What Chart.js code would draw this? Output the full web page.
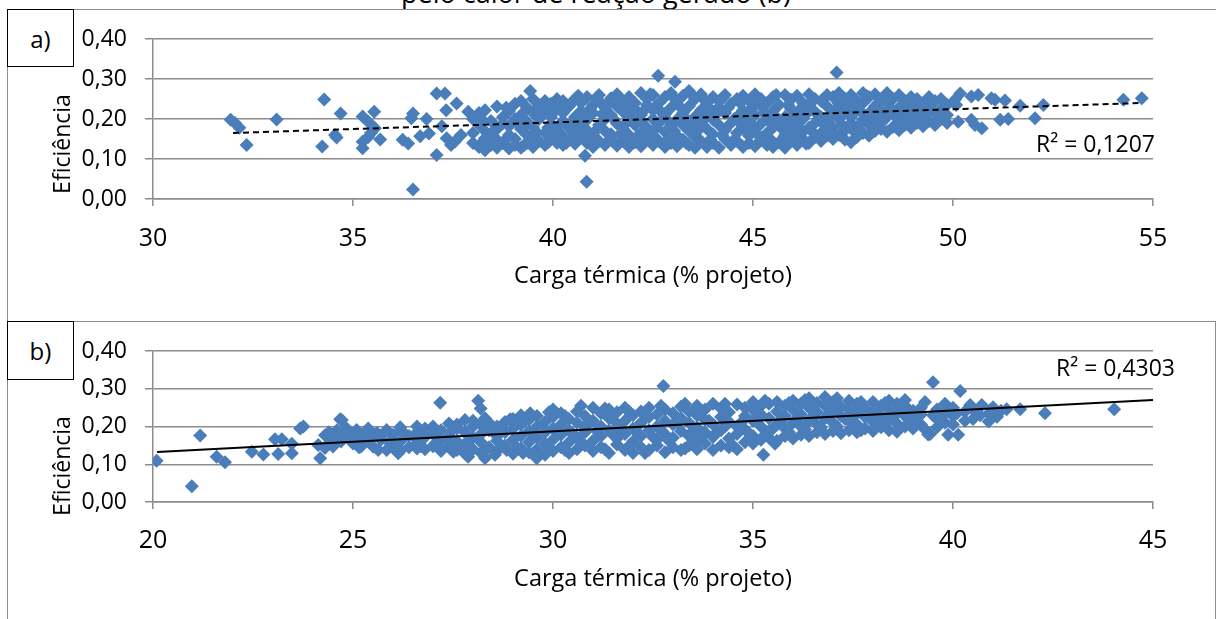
<!DOCTYPE html>
<html><head><meta charset="utf-8">
<script src="https://cdn.jsdelivr.net/npm/chart.js@4.4.1/dist/chart.umd.min.js"></script>
<style>
html,body{margin:0;padding:0;background:#fff;}
body{width:1216px;height:619px;position:relative;overflow:hidden;font-family:'Open Sans',sans-serif;color:#000;}
.wrap{position:absolute;left:0;}
.hl{position:absolute;height:0;border-top:1px solid #8c8c8c;}
.vl{position:absolute;width:0;border-left:1px solid #8c8c8c;}
.tag{position:absolute;box-sizing:border-box;border:1px solid #000;background:#fff;display:flex;align-items:center;justify-content:center;font-size:24px;}
.ytitle{position:absolute;font-size:23px;line-height:1;white-space:nowrap;transform:translate(-50%,-50%) rotate(-90deg);}
.r2{position:absolute;font-size:23px;line-height:23px;white-space:nowrap;}
.ttl{position:absolute;left:0;width:1192px;text-align:center;font-size:27px;line-height:27px;white-space:nowrap;}
</style></head><body>
<div class="ttl" style="top:-21px">pelo calor de reação gerado (b)</div>
<div class="hl" style="left:7px;top:9px;width:1209px"></div>
<div class="vl" style="left:7px;top:9px;height:610px"></div>
<div class="hl" style="left:7px;top:321px;width:1208px"></div>
<div class="vl" style="left:1215px;top:321px;height:298px"></div>
<div class="wrap" style="top:0;width:1216px;height:300px"><canvas id="ca" width="1216" height="300"></canvas></div>
<div class="wrap" style="top:300px;width:1216px;height:319px"><canvas id="cb" width="1216" height="319"></canvas></div>
<div class="tag" style="left:7px;top:9px;width:67px;height:58px">a)</div>
<div class="tag" style="left:7px;top:321px;width:67px;height:59px">b)</div>
<div class="ytitle" style="left:61px;top:144px">Eficiência</div>
<div class="ytitle" style="left:61px;top:466px">Eficiência</div>
<div class="r2" id="r2a" style="right:61px;top:132px"></div>
<div class="r2" id="r2b" style="right:41px;top:356px"></div>
<script>
// ---- data ----
const xTitle = 'Carga térmica (% projeto)';
const yTickLabels = ['0,00','0,10','0,20','0,30','0,40'];
const r2Labels = ['R² = 0,1207','R² = 0,4303'];
const trendA = [[32.0,0.165],[54.7,0.240]];
const trendB = [[20.1,0.1325],[45.0,0.270]];

const sparseA = [
[31.94,0.198],[32.16,0.178],[32.05,0.19],[32.34,0.135],[33.09,0.199],[34.28,0.249],[34.23,0.131],
[34.69,0.214],[34.59,0.154],[34.55,0.16],[35.24,0.206],[35.38,0.193],[35.53,0.218],[35.55,0.177],
[35.24,0.143],[35.24,0.127],[35.38,0.155],[35.68,0.149],[35.45,0.165],[36.24,0.148],[36.38,0.139],
[36.5,0.214],[36.46,0.202],[36.5,0.024],[36.68,0.157],[36.84,0.2],[36.9,0.164],[37.09,0.264],
[37.3,0.264],[37.33,0.222],[37.59,0.239],[37.22,0.182],[37.34,0.152],[37.55,0.144],[37.09,0.11],
[37.88,0.218],[37.7,0.16],[37.45,0.135],
[42.63,0.308],[43.05,0.293],[47.09,0.316],[40.84,0.043],[40.8,0.108],[39.43,0.27],
[50.05,0.248],[50.18,0.264],[50.08,0.235],[50.13,0.193],[50.46,0.256],[50.63,0.26],[50.46,0.198],
[50.55,0.185],[50.72,0.177],[50.96,0.252],[51.05,0.248],[51.18,0.198],[51.38,0.2],[51.3,0.246],
[51.68,0.233],[52.05,0.202],[52.26,0.235],[54.26,0.248],[54.72,0.252]
];
const colsA = [
[38.0,[0.14,0.165,0.2]],[38.15,[0.13,0.185,0.215]],[38.3,[0.122,0.152,0.17,0.222]],
[38.45,[0.135,0.16,0.195]],[38.6,[0.128,0.148,0.175,0.231]],[38.75,[0.14,0.19,0.205]],
[38.9,[0.126,0.16,0.182,0.22]],[39.05,[0.135,0.15,0.2,0.238]],[39.2,[0.128,0.175,0.21,0.245]],
[39.35,[0.14,0.16,0.192,0.228]],[39.5,[0.13,0.155,0.18,0.215,0.25]],[39.65,[0.145,0.2,0.235]],
[39.8,[0.135,0.165,0.222,0.245]],[39.95,[0.15,0.188,0.205,0.238]],[40.1,[0.14,0.17,0.228,0.25]],
[40.25,[0.135,0.158,0.195,0.215,0.245]],[40.4,[0.148,0.178,0.232]],[40.55,[0.138,0.165,0.205,0.25]],
[40.7,[0.155,0.19,0.22,0.24]],[40.85,[0.14,0.172,0.198,0.255]],[41.0,[0.13,0.158,0.215,0.235]],
[41.15,[0.145,0.185,0.245,0.26]],[41.3,[0.135,0.17,0.2,0.228]],[41.45,[0.15,0.162,0.21,0.252]],
[41.6,[0.133,0.188,0.232,0.262]],[41.75,[0.145,0.175,0.218,0.245]],[41.9,[0.13,0.16,0.2,0.255]],
[42.05,[0.142,0.185,0.225,0.24]],[42.2,[0.132,0.165,0.195,0.21,0.265]],[42.35,[0.15,0.178,0.235,0.25]],
[42.5,[0.135,0.16,0.2,0.222,0.26]],[42.65,[0.145,0.19,0.24]],[42.8,[0.13,0.168,0.212,0.255]],
[42.95,[0.14,0.18,0.228,0.265]],[43.1,[0.132,0.158,0.198,0.245]],[43.25,[0.148,0.185,0.215,0.258]],
[43.4,[0.135,0.17,0.232,0.27]],[43.55,[0.128,0.155,0.205,0.25]],[43.7,[0.145,0.19,0.222,0.262]],
[43.85,[0.13,0.175,0.21,0.24]],[44.0,[0.14,0.162,0.198,0.255]],[44.15,[0.128,0.185,0.23,0.245]],
[44.3,[0.15,0.172,0.215,0.26]],[44.45,[0.135,0.19,0.238]],[44.6,[0.145,0.165,0.205,0.25]],
[44.75,[0.13,0.18,0.222,0.258]],[44.9,[0.14,0.158,0.195,0.245]],[45.05,[0.132,0.175,0.21,0.262]],
[45.2,[0.148,0.188,0.232,0.25]],[45.35,[0.135,0.165,0.2,0.24]],[45.5,[0.13,0.178,0.22,0.255]],
[45.65,[0.142,0.19,0.235]],[45.8,[0.128,0.16,0.205,0.26]],[45.95,[0.145,0.172,0.225,0.248]],
[46.1,[0.135,0.185,0.21,0.258]],[46.25,[0.15,0.168,0.2,0.24]],[46.4,[0.14,0.178,0.23,0.262]],
[46.55,[0.155,0.19,0.218,0.25]],[46.7,[0.145,0.165,0.205,0.245]],[46.85,[0.158,0.195,0.232,0.26]],
[47.0,[0.15,0.18,0.215,0.255]],[47.15,[0.16,0.2,0.238,0.265]],[47.3,[0.148,0.172,0.22,0.25]],
[47.45,[0.142,0.19,0.205,0.26]],[47.6,[0.155,0.18,0.228,0.245]],[47.75,[0.165,0.198,0.24,0.265]],
[47.9,[0.158,0.185,0.215,0.255]],[48.05,[0.17,0.2,0.232,0.262]],[48.2,[0.175,0.19,0.22,0.248]],
[48.35,[0.168,0.205,0.24,0.265]],[48.5,[0.18,0.215,0.25]],[48.65,[0.172,0.195,0.228,0.26]],
[48.8,[0.185,0.21,0.245]],[48.95,[0.178,0.2,0.235,0.255]],[49.1,[0.19,0.222,0.25]],
[49.25,[0.182,0.205,0.24]],[49.4,[0.195,0.23,0.255]],[49.55,[0.185,0.215,0.245]],
[49.7,[0.2,0.225,0.25]],[49.85,[0.19,0.21,0.235]]
];
const colsA2 = [
[38.23,[0.142,0.198]],[38.53,[0.172]],[38.83,[0.15,0.228]],
[39.13,[0.188]],[39.28,[0.135,0.2]],[39.58,[0.168,0.225]],[39.73,[0.212]],
[39.88,[0.142,0.178]],[40.03,[0.16,0.218]],[40.18,[0.185,0.238]],
[40.33,[0.14,0.225]],[40.48,[0.192,0.242]],[40.63,[0.175,0.258]],
[40.78,[0.21]],[40.93,[0.15,0.225]],[41.08,[0.172,0.252]],
[41.23,[0.212]],[41.38,[0.145,0.24]],[41.53,[0.198]],
[41.68,[0.162,0.25]],[41.83,[0.19,0.23]],[41.98,[0.215]],
[42.13,[0.158,0.2]],[42.28,[0.222]],[42.43,[0.168,0.262]],
[42.58,[0.178,0.232]],[42.73,[0.215]],[42.88,[0.15,0.195]],
[43.03,[0.17,0.252]],[43.18,[0.23]],[43.33,[0.14,0.2]],
[43.48,[0.19,0.26]],[43.63,[0.172]],[43.78,[0.2,0.248]],
[43.93,[0.148,0.225]],[44.08,[0.212]],[44.23,[0.16,0.252]],
[44.38,[0.228]],[44.53,[0.148,0.2]],[44.68,[0.19,0.24]],
[44.83,[0.17,0.21]],[44.98,[0.185,0.228]],[45.13,[0.16,0.242]],
[45.28,[0.215]],[45.43,[0.15,0.192]],[45.58,[0.205,0.26]],
[45.73,[0.175]],[45.88,[0.19,0.235]],[46.03,[0.162,0.198]],
[46.18,[0.225]],[46.33,[0.138,0.212]],[46.48,[0.168,0.245]],
[46.63,[0.2]],[46.78,[0.185,0.252]],[46.93,[0.172,0.205]],
[47.08,[0.225]],[47.23,[0.185,0.21]],[47.38,[0.235]],
[47.53,[0.168,0.215]],[47.68,[0.22]],[47.83,[0.205,0.258]],
[47.98,[0.19]],[48.13,[0.212,0.24]],[48.28,[0.198]],
[48.43,[0.228]],[48.58,[0.205]],[48.88,[0.228]],
[49.03,[0.212]],[49.33,[0.215]],[49.63,[0.208]]
];

const sparseB = [
[20.09,0.109],[20.97,0.042],[21.18,0.176],[21.59,0.12],[21.8,0.105],[22.47,0.133],[22.76,0.126],
[23.05,0.166],[23.22,0.166],[23.13,0.127],[23.47,0.154],[23.47,0.129],[23.68,0.195],[23.76,0.2],
[24.13,0.151],[24.18,0.116],[24.3,0.177],[24.3,0.143],[24.55,0.173],[24.5,0.147],[24.72,0.217],
[24.68,0.219],[24.84,0.195],[24.93,0.169],[25.09,0.191],[25.1,0.168],[25.2,0.147],[25.38,0.195],
[25.6,0.183],[25.5,0.147],[25.63,0.138],[25.84,0.191],[25.99,0.145],[25.84,0.138],[26.13,0.129],
[26.6,0.142],[27.05,0.154],[27.51,0.133],[27.88,0.12],[28.3,0.116],[28.55,0.125],[28.84,0.138],
[29.25,0.13],[29.59,0.116],[26.18,0.198],[26.6,0.2],[27.4,0.208],[27.8,0.217],[28.3,0.222],
[28.93,0.219],[29.2,0.23],[29.43,0.235],[27.18,0.263],[28.13,0.268],[28.19,0.248],
[32.76,0.307],[39.5,0.317],[40.18,0.294],[39.38,0.179],[39.43,0.18],[39.88,0.178],[40.13,0.178],
[35.26,0.125],[35.55,0.154],[40.43,0.257],[40.72,0.257],[41.0,0.251],[41.34,0.246],[41.68,0.246],
[40.68,0.23],[40.89,0.213],[41.1,0.226],[42.3,0.235],[44.03,0.246]
];
const colsB = [
[24.4,[0.155,0.185]],[24.7,[0.16,0.18]],[25.0,[0.155,0.178]],[25.3,[0.16,0.182]],[25.7,[0.165,0.175]],
[25.9,[0.158]],[26.0,[0.15,0.178]],[26.2,[0.138,0.162,0.19]],[26.4,[0.145,0.175]],
[26.6,[0.155,0.165,0.185]],[26.8,[0.14,0.172,0.195]],[27.0,[0.148,0.18,0.2]],[27.2,[0.135,0.165,0.19]],
[27.4,[0.145,0.15,0.175]],[27.6,[0.138,0.16,0.195,0.205]],[27.8,[0.128,0.152,0.185]],
[28.0,[0.14,0.17,0.2,0.215]],[28.2,[0.13,0.158,0.18,0.205]],[28.4,[0.145,0.19,0.21]],
[28.6,[0.135,0.162,0.175,0.2]],[28.8,[0.15,0.185,0.212]],[29.0,[0.128,0.165,0.195,0.22]],
[29.2,[0.142,0.175,0.205]],[29.4,[0.132,0.158,0.188,0.218]],[29.6,[0.14,0.17,0.2,0.228]],
[29.8,[0.125,0.155,0.185,0.212]],[30.0,[0.135,0.165,0.195,0.225,0.245]],[30.2,[0.145,0.178,0.205,0.235]],
[30.4,[0.13,0.158,0.19,0.22]],[30.6,[0.14,0.17,0.21,0.24]],[30.8,[0.15,0.185,0.198,0.228]],
[31.0,[0.135,0.162,0.215,0.25]],[31.2,[0.145,0.175,0.2,0.235]],[31.4,[0.13,0.19,0.222,0.245]],
[31.6,[0.152,0.168,0.208,0.238]],[31.8,[0.138,0.18,0.215,0.25]],[32.0,[0.13,0.16,0.195,0.23]],
[32.2,[0.145,0.175,0.21,0.24]],[32.4,[0.138,0.19,0.225,0.25]],[32.6,[0.15,0.165,0.2,0.232]],
[32.8,[0.132,0.18,0.215,0.245]],[33.0,[0.145,0.17,0.205,0.235]],[33.2,[0.138,0.188,0.222,0.252]],
[33.4,[0.15,0.175,0.21,0.24]],[33.6,[0.14,0.162,0.198,0.23,0.255]],[33.8,[0.155,0.185,0.218,0.245]],
[34.0,[0.138,0.172,0.205,0.26]],[34.2,[0.15,0.19,0.225,0.248]],[34.4,[0.145,0.168,0.212,0.238]],
[34.6,[0.14,0.18,0.2,0.258]],[34.8,[0.158,0.192,0.228,0.25]],[35.0,[0.155,0.175,0.215,0.245,0.265]],
[35.2,[0.165,0.2,0.232,0.255]],[35.4,[0.17,0.188,0.222,0.26]],[35.6,[0.162,0.205,0.24,0.265]],
[35.8,[0.175,0.195,0.228,0.255]],[36.0,[0.168,0.21,0.245,0.268]],[36.2,[0.178,0.2,0.232,0.26]],
[36.4,[0.175,0.215,0.25,0.275]],[36.6,[0.185,0.205,0.238,0.262]],[36.8,[0.18,0.222,0.255,0.278]],
[37.0,[0.188,0.21,0.24,0.265]],[37.2,[0.182,0.228,0.252]],[37.4,[0.19,0.215,0.245,0.268]],
[37.6,[0.185,0.205,0.235,0.26]],[37.8,[0.195,0.225,0.25]],[38.0,[0.188,0.212,0.24,0.265]],
[38.2,[0.198,0.23,0.255]],[38.4,[0.19,0.218,0.245,0.268]],[38.6,[0.186,0.208,0.235,0.26]],
[38.8,[0.2,0.228,0.255,0.27]],[39.0,[0.195,0.215,0.242]],[39.2,[0.205,0.232,0.25]],
[39.6,[0.198,0.22,0.245]],[39.8,[0.21,0.235,0.26]],[40.0,[0.205,0.228,0.25]],[40.3,[0.215,0.24]]
];
const colsB2 = [
[24.6,[0.19]],[25.15,[0.145]],[25.45,[0.17]],[26.3,[0.18]],[26.7,[0.148]],
[27.1,[0.172]],[27.5,[0.192]],[27.9,[0.165]],[28.3,[0.138,0.195]],[28.7,[0.19]],
[29.1,[0.145,0.205]],[29.5,[0.185]],[29.9,[0.145,0.238]],[30.1,[0.185]],[30.3,[0.138,0.228]],
[30.5,[0.18]],[30.7,[0.158,0.255]],[30.9,[0.212]],[31.1,[0.188]],[31.3,[0.14,0.248]],
[31.5,[0.178,0.232]],[31.7,[0.19]],[31.9,[0.148,0.24]],[32.1,[0.185]],[32.3,[0.13,0.23]],
[32.5,[0.172]],[32.7,[0.19,0.255]],[32.9,[0.162]],[33.1,[0.212]],[33.3,[0.142,0.26]],
[33.5,[0.188]],[33.7,[0.175,0.24]],[33.9,[0.215]],[34.1,[0.185]],[34.3,[0.2,0.26]],
[34.5,[0.15]],[34.7,[0.21]],[34.9,[0.182]],[35.1,[0.225]],[35.3,[0.178,0.268]],
[35.5,[0.195]],[35.7,[0.215]],[35.9,[0.185,0.262]],[36.1,[0.222]],[36.3,[0.192,0.27]],
[36.5,[0.225]],[36.7,[0.198]],[36.9,[0.235]],[37.1,[0.2,0.275]],[37.3,[0.22]],
[37.5,[0.228]],[37.7,[0.19,0.265]],[37.9,[0.235]],[38.1,[0.222]],[38.3,[0.205,0.262]],
[38.5,[0.228]],[38.7,[0.245]],[38.9,[0.21]],[39.1,[0.225]],[39.3,[0.192,0.265]],
[39.5,[0.23]],[39.7,[0.218]],[40.1,[0.235]],[40.5,[0.22,0.245]],[40.9,[0.235]],[41.2,[0.242]]
];

// ---- build ----
function toPts(sparse, colSets){
  const out = sparse.map(p => ({x:p[0], y:p[1]}));
  colSets.forEach(cols => cols.forEach(c => c[1].forEach(y => out.push({x:c[0], y:y}))));
  return out;
}
Chart.defaults.font.family = "'Open Sans', sans-serif";
Chart.defaults.color = '#000';
const GRID = '#8c8c8c';

function makeChart(canvas, p){
  return new Chart(canvas, {
    type: 'scatter',
    data: { datasets: [
      { data: p.trend.map(t => ({x:t[0], y:t[1]})), showLine: true, borderColor: '#000',
        borderWidth: p.lw, borderDash: p.dash, pointRadius: 0, pointHoverRadius: 0, fill: false, order: 0 },
      { data: p.points, pointStyle: 'rectRot', pointRadius: 7, pointHoverRadius: 7,
        backgroundColor: '#4a7ebb', borderColor: '#4a7ebb', borderWidth: 0, order: 1 }
    ]},
    options: {
      responsive: false, animation: false, events: [],
      layout: { padding: { left: 0, right: 63, top: p.top, bottom: 0 } },
      plugins: { legend: {display:false}, tooltip: {enabled:false}, title: {display:false} },
      scales: {
        x: { type: 'linear', min: p.xMin, max: p.xMax,
             afterFit: s => { s.height = p.xh; },
             ticks: { stepSize: 5, padding: p.tickPad, font: {size: 25}, color: '#000',
                      maxRotation: 0, autoSkip: false, callback: v => String(v) },
             grid: { display: true, drawOnChartArea: false, drawTicks: true, tickLength: 7, color: GRID, lineWidth: 1.5 },
             border: { display: true, color: GRID, width: 1.5 },
             title: { display: true, text: xTitle, font: {size: 23.5}, color: '#000',
                      padding: { top: 0, bottom: p.titlePad } } },
        y: { min: 0, max: 0.4,
             afterFit: s => { s.width = 153; },
             ticks: { stepSize: 0.1, padding: 18, font: {size: 23}, color: '#000',
                      callback: (v, i) => yTickLabels[i] },
             grid: { color: GRID, lineWidth: 1.5, tickLength: 8, drawTicks: true },
             border: { display: true, color: GRID, width: 1.5 } }
      }
    }
  });
}

makeChart(document.getElementById('ca'), {
  points: toPts(sparseA, [colsA, colsA2]), trend: trendA, lw: 2, dash: [6,4],
  xMin: 30, xMax: 55, top: 39, xh: 101, tickPad: 18, titlePad: 9.5
});
makeChart(document.getElementById('cb'), {
  points: toPts(sparseB, [colsB, colsB2]), trend: trendB, lw: 2, dash: [],
  xMin: 20, xMax: 45, top: 51, xh: 117, tickPad: 17, titlePad: 25.5
});
document.getElementById('r2a').textContent = r2Labels[0];
document.getElementById('r2b').textContent = r2Labels[1];
</script>
</body></html>
